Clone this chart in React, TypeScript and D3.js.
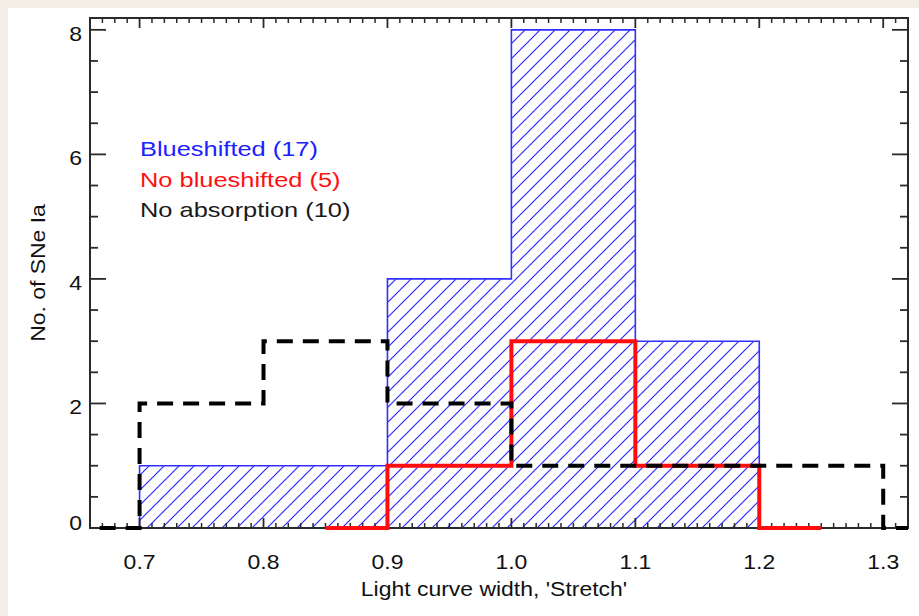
import React from "react";
import * as d3 from "d3";

// ---- data ----
const blueEdges = [0.6, 0.7, 0.8, 0.9, 1.0, 1.1, 1.2, 1.3];
const blueCounts = [0, 1, 1, 4, 8, 3, 0];
const redEdges = [0.85, 0.9, 1.0, 1.1, 1.2, 1.25];
const redCounts = [0, 1, 3, 1, 0];
const blackEdges = [0.6, 0.7, 0.8, 0.9, 1.0, 1.1, 1.2, 1.3, 1.35];
const blackCounts = [0, 2, 3, 2, 1, 1, 1, 0];
const xTickLabels = ["0.7", "0.8", "0.9", "1.0", "1.1", "1.2", "1.3"];
const yTickLabels = ["0", "2", "4", "6", "8"];
const legendLabels = ["Blueshifted (17)", "No blueshifted (5)", "No absorption (10)"];
const legendColors = ["#2020ff", "#ff1010", "#1a1a1a"];

const W = 919, H = 616;
const L = 90, R = 908, T = 18, B = 528;
const FONT = "'Liberation Sans', Arial, Helvetica, sans-serif";

function steps(edges: number[], counts: number[]) {
  const pts = edges.map((e, i) => [e, i < counts.length ? counts[i] : counts[counts.length - 1]] as [number, number]);
  return pts;
}

function SText({ x, y, children, anchor = "start", size = 20, sx = 1.12, fill = "#111", rotate = 0 }: any) {
  return (
    <g transform={`translate(${x},${y}) rotate(${rotate}) scale(${sx},1)`}>
      <text x={0} y={0} textAnchor={anchor} fontFamily={FONT} fontSize={size} fill={fill}>
        {children}
      </text>
    </g>
  );
}

export default function App() {
  const x = d3.scaleLinear().domain([0.66, 1.32]).range([L, R]);
  const y = d3.scaleLinear().domain([0, 8.19]).range([B, T]);

  const line = d3.line<[number, number]>().x(d => x(d[0])).y(d => y(d[1])).curve(d3.curveStepAfter);
  const area = d3.area<[number, number]>().x(d => x(d[0])).y0(y(0)).y1(d => y(d[1])).curve(d3.curveStepAfter);

  const bluePts = steps(blueEdges, blueCounts);
  const redPts = steps(redEdges, redCounts);
  const blackPts = steps(blackEdges, blackCounts);

  const xMajor = xTickLabels.map(Number);
  const xMinor = d3.range(66, 133).map(v => v / 100).filter(v => !xMajor.some(m => Math.abs(m - v) < 1e-6));
  const yMajor = yTickLabels.map(Number);
  const yMinor = d3.range(0, 17).map(v => v / 2).filter(v => !yMajor.includes(v));

  const axisColor = "#2a2a2a";

  return (
    <svg width={W} height={H} style={{ position: "absolute", left: 0, top: 0 }}>
      <defs>
        <pattern id="hatch" patternUnits="userSpaceOnUse" width={15} height={15} x={0} y={0}>
          <path d="M-3,3 L3,-3 M0,15 L15,0 M12,18 L18,12" stroke="#2a2aff" strokeWidth={1.2} />
        </pattern>
        <clipPath id="plotclip">
          <rect x={L} y={T - 4} width={R - L} height={B - T + 8} />
        </clipPath>
      </defs>
      <rect x={0} y={0} width={W} height={H} fill="#f3efe7" />
      <rect x={8} y={8} width={W - 8} height={H - 8} fill="#ffffff" />

      <g clipPath="url(#plotclip)">
        <path d={area(bluePts) || ""} fill="url(#hatch)" />
        <path d={line(bluePts) || ""} fill="none" stroke="#3030ff" strokeWidth={1.6} />
      </g>

      {/* axes frame */}
      <rect x={L} y={T} width={R - L} height={B - T} fill="none" stroke={axisColor} strokeWidth={2} />
      {xMajor.map(v => (
        <g key={"xM" + v}>
          <line x1={x(v)} x2={x(v)} y1={B} y2={B - 10} stroke={axisColor} strokeWidth={1.8} />
          <line x1={x(v)} x2={x(v)} y1={T} y2={T + 10} stroke={axisColor} strokeWidth={1.8} />
        </g>
      ))}
      {xMinor.map(v => (
        <g key={"xm" + v}>
          <line x1={x(v)} x2={x(v)} y1={B} y2={B - 5} stroke={axisColor} strokeWidth={1.5} />
          <line x1={x(v)} x2={x(v)} y1={T} y2={T + 5} stroke={axisColor} strokeWidth={1.5} />
        </g>
      ))}
      {yMajor.map(v => (
        <g key={"yM" + v}>
          <line x1={L} x2={L + 16} y1={y(v)} y2={y(v)} stroke={axisColor} strokeWidth={1.8} />
          <line x1={R} x2={R - 16} y1={y(v)} y2={y(v)} stroke={axisColor} strokeWidth={1.8} />
        </g>
      ))}
      {yMinor.map(v => (
        <g key={"ym" + v}>
          <line x1={L} x2={L + 8} y1={y(v)} y2={y(v)} stroke={axisColor} strokeWidth={1.8} />
          <line x1={R} x2={R - 8} y1={y(v)} y2={y(v)} stroke={axisColor} strokeWidth={1.8} />
        </g>
      ))}

      <g clipPath="url(#plotclip)">
        <path d={line(redPts) || ""} fill="none" stroke="#ff0d0d" strokeWidth={4} />
        <path d={line(blackPts) || ""} fill="none" stroke="#000" strokeWidth={4} strokeDasharray="16,10" strokeDashoffset={-6} />
      </g>

      {/* tick labels */}
      {xTickLabels.map(t => (
        <SText key={"xl" + t} x={x(Number(t))} y={569} anchor="middle" size={20.5}>{t}</SText>
      ))}
      {yTickLabels.map(t => (
        <SText key={"yl" + t} x={82} y={Math.min(y(Number(t)) + 11, B + 2)} anchor="end" size={20.5}>{t}</SText>
      ))}

      {/* axis titles */}
      <SText x={(L + R) / 2 - 5} y={596} anchor="middle" size={20.5}>Light curve width, 'Stretch'</SText>
      <SText x={45} y={273} anchor="middle" size={20.5} rotate={-90}>No. of SNe Ia</SText>

      {/* legend */}
      {legendLabels.map((t, i) => (
        <SText key={t} x={140} y={156 + i * 30.5} size={20.5} sx={1.24} fill={legendColors[i]}>{t}</SText>
      ))}
    </svg>
  );
}
